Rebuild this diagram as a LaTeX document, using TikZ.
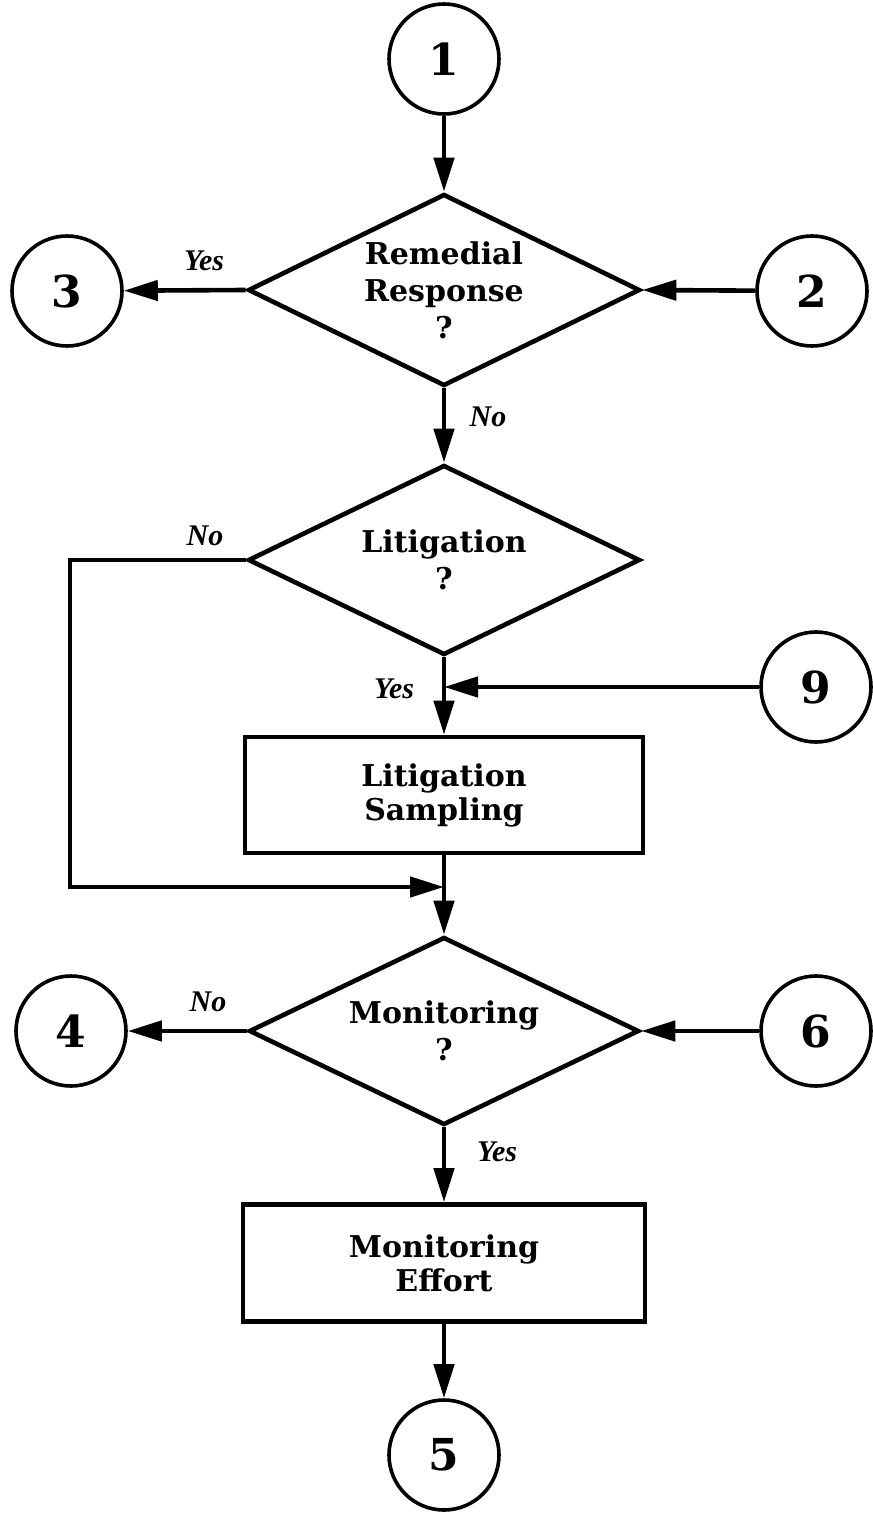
\documentclass[tikz,border=0pt]{standalone}
\usepackage{fontspec}
\setmainfont{DejaVu Serif}
\newfontfamily\labfont{Liberation Serif}
\usetikzlibrary{shapes.geometric,arrows.meta}
\begin{document}
\begin{tikzpicture}[x=0.5pt,y=-0.5pt,
  conn/.style={circle,draw,line width=1.8pt,minimum size=55pt,inner sep=0pt,
    font=\fontsize{22}{26}\selectfont\bfseries},
  decision/.style={diamond,aspect=2,draw,line width=2.3pt,inner sep=0pt,align=center,
    font=\fontsize{15}{18.5}\selectfont\bfseries},
  process/.style={rectangle,draw,line width=2.3pt,inner sep=0pt,align=center,
    font=\fontsize{15}{17}\selectfont\bfseries},
  flow/.style={line width=2.3pt,-{Triangle[length=17pt,width=10pt]}},
  lab/.style={font=\labfont\bfseries\itshape\fontsize{15}{17}\selectfont}
]
\useasboundingbox (0,0) rectangle (872,1513);

% connectors (circles)
\node[conn] (c1) at (444,59) {1};
\node[conn] (c3) at (67,291) {3};
\node[conn] (c2) at (812,291) {2};
\node[conn] (c9) at (816,687) {9};
\node[conn] (c4) at (71,1031) {4};
\node[conn] (c6) at (816,1031) {6};
\node[conn] (c5) at (444,1455) {5};

% decisions
\node[decision,minimum width=196pt,minimum height=96pt] (d1) at (444,290) {Remedial\\Response\\?};
\node[decision,minimum width=196pt,minimum height=95pt] (d2) at (444,560) {Litigation\\?};
\node[decision,minimum width=195pt,minimum height=94pt] (d3) at (444,1031) {Monitoring\\?};

% processes
\node[process,minimum width=199pt,minimum height=58pt] (r1) at (444,795) {Litigation\\Sampling};
\node[process,minimum width=201pt,minimum height=58.5pt] (r2) at (444,1263) {Monitoring\\Effort};

% junction points
\coordinate (j1) at (444,687);
\coordinate (j2) at (444,887);
\coordinate (lcorner) at (70,560);

% flows
\draw[flow] (c1) -- (d1);
\draw[flow] (d1.west) -- (c3);
\draw[flow] (c2) -- (d1.east);
\draw[flow] (d1.south) -- (d2.north);
\draw[flow] (d2.south) -- (r1.north);
\draw[flow] (c9) -- (j1);
\draw[flow] (d2.west) -- (lcorner) |- (j2);
\draw[flow] (r1.south) -- (d3.north);
\draw[flow] (d3.west) -- (c4);
\draw[flow] (c6) -- (d3.east);
\draw[flow] (d3.south) -- (r2.north);
\draw[flow] (r2.south) -- (c5);

% labels
\node[lab] (lyes1) at (204,261) {Yes};
\node[lab] (lno1) at (488,417) {No};
\node[lab] (lno2) at (205,536) {No};
\node[lab] (lyes2) at (394,689) {Yes};
\node[lab] (lno3) at (208,1002) {No};
\node[lab] (lyes3) at (497,1152) {Yes};
\end{tikzpicture}
\end{document}
